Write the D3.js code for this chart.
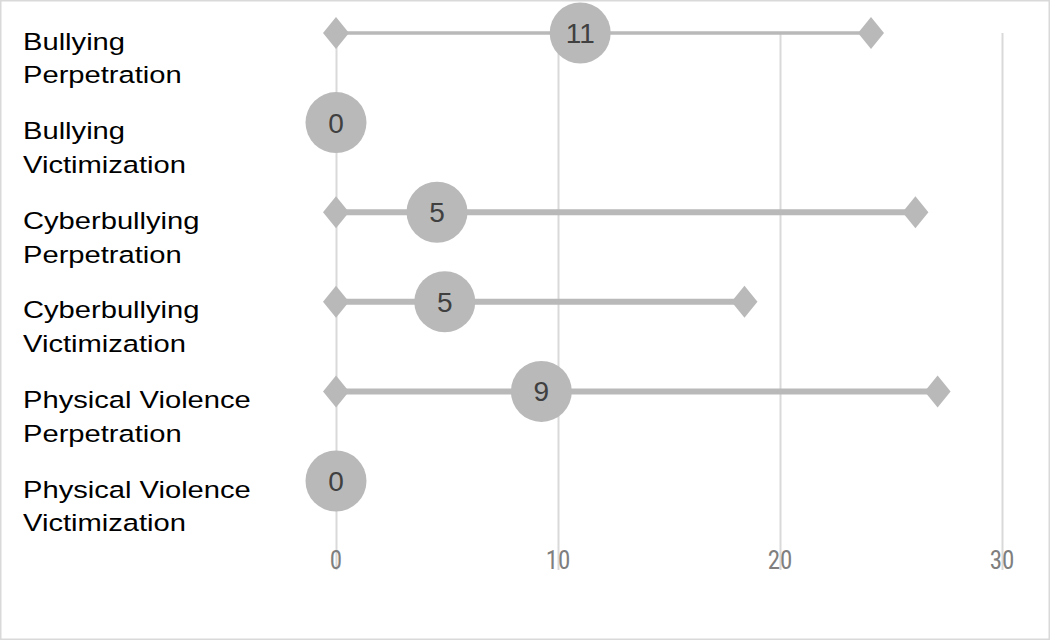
<!DOCTYPE html>
<html>
<head>
<meta charset="utf-8">
<script src="https://cdn.jsdelivr.net/npm/d3@7"></script>
<style>
  body { margin: 0; background: #fff; }
  svg { display: block; }
</style>
</head>
<body>
<svg id="chart" width="1050" height="640"></svg>
<script>
// categories, each label split into two lines
const categories = [
  "Bullying Perpetration",
  "Bullying Victimization",
  "Cyberbullying Perpetration",
  "Cyberbullying Victimization",
  "Physical Violence Perpetration",
  "Physical Violence Victimization"
];
const labelLines = [
  ["Bullying", "Perpetration"],
  ["Bullying", "Victimization"],
  ["Cyberbullying", "Perpetration"],
  ["Cyberbullying", "Victimization"],
  ["Physical Violence", "Perpetration"],
  ["Physical Violence", "Victimization"]
];
// range ends (null = no range drawn) and middle value
const minValues = [0, null, 0, 0, 0, null];
const maxValues = [24.1, null, 26.1, 18.4, 27.1, null];
const midValues = [11, 0, 4.55, 4.9, 9.25, 0];
const xTickValues = [0, 10, 20, 30];

const width = 1050, height = 640;
const grey = '#b9b9b9';
const thinRows = ["Bullying Perpetration"];

const svg = d3.select('#chart');

// outer frame
svg.append('rect')
  .attr('x', 0.75).attr('y', 0.75)
  .attr('width', width - 1.5).attr('height', height - 1.5)
  .attr('fill', '#fff')
  .attr('stroke', '#d9d9d9')
  .attr('stroke-width', 1.5);

const xScale = d3.scaleLinear().domain([0, 30]).range([336, 1002]);
const yScale = d3.scalePoint().domain(categories).range([33, 481]);

//gridlines
svg.append('g')
  .attr('transform', 'translate(0,570)')
  .call(d3.axisBottom(xScale)
    .tickValues(xTickValues)
    .tickSize(-(570 - 33))
    .tickFormat('')
    .tickSizeOuter(0))
  .call(g => g.select('.domain').remove())
  .call(g => g.selectAll('.tick line').attr('stroke', '#d9d9d9').attr('stroke-width', 2));

// x tick labels
svg.append('g')
  .selectAll('text')
  .data(xTickValues)
  .join('text')
  .attr('x', d => xScale(d))
  .attr('y', 569)
  .attr('text-anchor', 'middle')
  .style('font-family', '"Liberation Sans Narrow", "Roboto Condensed", "Liberation Sans", sans-serif')
  .style('font-size', '25px')
  .attr('fill', '#7f7f7f')
  .text(d => d);

// category labels
const labels = svg.append('g')
  .selectAll('g')
  .data(categories)
  .join('g')
  .attr('transform', d => 'translate(23,' + yScale(d) + ') scale(1.19,1)');

labels.selectAll('text')
  .data((d, i) => labelLines[i])
  .join('text')
  .attr('x', 0)
  .attr('y', (d, j) => 16.5 + j * 34)
  .style('font-family', '"Liberation Sans", Arial, sans-serif')
  .style('font-size', '24.5px')
  .attr('fill', '#000')
  .text(d => d);

const rows = categories.map((c, i) => ({
  cat: c, min: minValues[i], max: maxValues[i], mid: midValues[i]
}));
const ranged = rows.filter(d => d.min !== null);

// range lines
svg.append('g')
  .selectAll('line')
  .data(ranged)
  .join('line')
  .attr('x1', d => xScale(d.min))
  .attr('x2', d => xScale(d.max))
  .attr('y1', d => yScale(d.cat))
  .attr('y2', d => yScale(d.cat))
  .attr('stroke', grey)
  .attr('stroke-width', d => thinRows.includes(d.cat) ? 3.5 : 6);

// diamonds at both ends
const diamond = 'M0,-16L13,0L0,16L-13,0Z';
const ends = ranged.flatMap(d => [{cat: d.cat, v: d.min}, {cat: d.cat, v: d.max}]);
svg.append('g')
  .selectAll('path')
  .data(ends)
  .join('path')
  .attr('d', diamond)
  .attr('transform', d => 'translate(' + xScale(d.v) + ',' + yScale(d.cat) + ')')
  .attr('fill', grey);

// circles with labels
const dots = svg.append('g')
  .selectAll('g')
  .data(rows)
  .join('g')
  .attr('transform', d => 'translate(' + xScale(d.mid) + ',' + yScale(d.cat) + ')');

dots.append('circle')
  .attr('r', 30.5)
  .attr('fill', grey);

dots.append('text')
  .attr('text-anchor', 'middle')
  .attr('dy', '0.36em')
  .style('font-family', '"Liberation Sans", Arial, sans-serif')
  .style('font-size', '28px')
  .attr('fill', '#404040')
  .text(d => d3.format('.0f')(d.mid));
</script>
</body>
</html>
